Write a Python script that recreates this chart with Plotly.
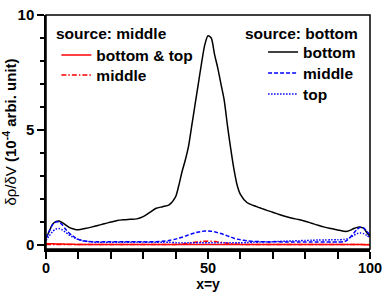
import plotly.graph_objects as go

# ---- data ----
x = [0, 1, 2, 3, 4, 5, 6, 7, 8, 9, 10,
     12, 14, 16, 18, 20, 22, 24, 26, 28, 30, 32, 34, 36, 38, 40,
     41, 42, 43, 44, 45, 46, 47, 48, 49, 50, 51, 52, 53, 54, 55, 56, 57, 58, 59, 60,
     62, 64, 66, 68, 70, 72, 74, 76, 78, 80, 82, 84, 86, 88, 90, 92,
     93, 94, 95, 96, 97, 98, 99, 100]

# source: bottom
bottom_bottom = [0.30, 0.60, 0.90, 1.02, 1.05, 0.98, 0.88, 0.78, 0.72, 0.68, 0.67,
                 0.72, 0.78, 0.85, 0.93, 1.00, 1.07, 1.10, 1.12, 1.14, 1.24, 1.42, 1.60, 1.67, 1.75, 2.10,
                 2.60, 3.20, 3.70, 4.30, 5.20, 6.10, 7.00, 7.90, 8.70, 9.10, 9.00, 8.30, 7.70, 7.00, 6.30, 5.20, 4.20, 3.30, 2.60, 2.20,
                 1.85, 1.72, 1.62, 1.52, 1.43, 1.33, 1.24, 1.17, 1.11, 1.04, 0.95, 0.86, 0.78, 0.72, 0.66, 0.60,
                 0.60, 0.65, 0.72, 0.77, 0.78, 0.74, 0.55, 0.38]

bottom_middle = [0.30, 0.60, 0.88, 1.00, 1.00, 0.88, 0.70, 0.55, 0.42, 0.32, 0.25,
                 0.18, 0.15, 0.14, 0.14, 0.14, 0.14, 0.14, 0.14, 0.14, 0.14, 0.14, 0.15, 0.17, 0.20, 0.26,
                 0.30, 0.34, 0.39, 0.44, 0.49, 0.53, 0.57, 0.59, 0.61, 0.61, 0.60, 0.58, 0.54, 0.50, 0.45, 0.40, 0.35, 0.30, 0.26, 0.23,
                 0.19, 0.16, 0.15, 0.14, 0.14, 0.14, 0.13, 0.13, 0.13, 0.13, 0.13, 0.13, 0.13, 0.13, 0.13, 0.15,
                 0.22, 0.35, 0.52, 0.68, 0.78, 0.75, 0.60, 0.45]

bottom_top = [0.20, 0.40, 0.58, 0.70, 0.72, 0.66, 0.56, 0.46, 0.37, 0.30, 0.24,
              0.17, 0.14, 0.12, 0.12, 0.12, 0.12, 0.12, 0.12, 0.12, 0.12, 0.12, 0.12, 0.12, 0.12, 0.11,
              0.10, 0.10, 0.10, 0.10, 0.10, 0.10, 0.10, 0.10, 0.10, 0.10, 0.10, 0.10, 0.10, 0.10, 0.10, 0.10, 0.10, 0.10, 0.10, 0.10,
              0.11, 0.12, 0.13, 0.14, 0.15, 0.16, 0.17, 0.18, 0.19, 0.20, 0.21, 0.22, 0.22, 0.23, 0.23, 0.25,
              0.28, 0.34, 0.42, 0.50, 0.53, 0.50, 0.42, 0.32]

# source: middle
middle_bottom_top = [0.06, 0.06, 0.06, 0.05, 0.05, 0.05, 0.04, 0.04, 0.04, 0.03, 0.03,
                     0.03, 0.03, 0.03, 0.03, 0.03, 0.03, 0.03, 0.03, 0.03, 0.03, 0.03, 0.03, 0.03, 0.03, 0.03,
                     0.03, 0.03, 0.03, 0.03, 0.03, 0.03, 0.03, 0.03, 0.03, 0.03, 0.03, 0.03, 0.03, 0.03, 0.03, 0.03, 0.03, 0.03, 0.03, 0.03,
                     0.03, 0.03, 0.03, 0.03, 0.03, 0.03, 0.03, 0.03, 0.03, 0.03, 0.03, 0.03, 0.03, 0.03, 0.03, 0.03,
                     0.03, 0.03, 0.03, 0.03, 0.03, 0.02, 0.02, 0.02]

middle_middle = [0.03, 0.03, 0.03, 0.03, 0.03, 0.03, 0.03, 0.03, 0.03, 0.03, 0.03,
                 0.03, 0.03, 0.03, 0.03, 0.03, 0.03, 0.03, 0.03, 0.03, 0.03, 0.03, 0.03, 0.03, 0.03, 0.03,
                 0.04, 0.05, 0.06, 0.08, 0.10, 0.12, 0.14, 0.16, 0.17, 0.17, 0.17, 0.16, 0.14, 0.12, 0.10, 0.08, 0.06, 0.05, 0.04, 0.03,
                 0.03, 0.03, 0.03, 0.03, 0.03, 0.03, 0.03, 0.03, 0.03, 0.03, 0.03, 0.03, 0.03, 0.03, 0.03, 0.03,
                 0.03, 0.03, 0.03, 0.03, 0.03, 0.03, 0.03, 0.03]

x_tick_vals = [0, 10, 20, 30, 40, 50, 60, 70, 80, 90, 100]
x_tick_text = ["0", "", "", "", "", "50", "", "", "", "", "100"]
y_tick_vals = [0, 5, 10]
y_tick_text = ["0", "5", "10"]
y_minor_vals = [1, 2, 3, 4, 6, 7, 8, 9]

FONT = "Liberation Sans, Arial, sans-serif"
RED = "#ff0000"
BLUE = "#0000ff"


def ln(color, dash=None):
    d = dict(color=color, width=1.5, shape="spline", smoothing=0.7)
    if dash:
        d["dash"] = dash
    return d


fig = go.Figure()
fig.add_trace(go.Scatter(x=x, y=middle_bottom_top, mode="lines", name="bottom &amp; top",
                         line=ln(RED), legend="legend", showlegend=True))
fig.add_trace(go.Scatter(x=x, y=middle_middle, mode="lines", name="middle",
                         line=ln(RED, "5px,2px,1.5px,2px"), legend="legend2", showlegend=True))
fig.add_trace(go.Scatter(x=x, y=bottom_bottom, mode="lines", name="bottom",
                         line=ln("black"), legend="legend3", showlegend=True))
fig.add_trace(go.Scatter(x=x, y=bottom_middle, mode="lines", name="middle",
                         line=ln(BLUE, "4px,2px"), legend="legend4", showlegend=True))
fig.add_trace(go.Scatter(x=x, y=bottom_top, mode="lines", name="top",
                         line=ln(BLUE, "1.5px,1.5px"), legend="legend5", showlegend=True))

legend_font = dict(family=FONT, size=15.5, color="black", weight="bold")


def leg(xp, yp):
    return dict(x=xp, y=yp, xanchor="left", yanchor="top", visible=True,
                bgcolor="rgba(0,0,0,0)", font=legend_font, borderwidth=0)


fig.update_layout(
    width=382, height=305,
    margin=dict(l=46, r=12, t=15, b=56),
    showlegend=True,
    paper_bgcolor="white", plot_bgcolor="white",
    font=dict(family=FONT, color="black"),
    legend=leg(0.032, 0.8996),
    legend2=leg(0.032, 0.8141),
    legend3=leg(0.670, 0.9124),
    legend4=leg(0.670, 0.8226),
    legend5=leg(0.670, 0.7329),
    xaxis=dict(range=[0, 100], tickmode="array", tickvals=x_tick_vals, ticktext=x_tick_text,
               ticks="outside", ticklen=7, tickwidth=1.5, tickcolor="black", automargin=False,
               ticklabeloverflow="allow", ticklabelstandoff=-3,
               showline=True, linewidth=2.5, linecolor="black", showgrid=False, zeroline=False,
               tickfont=dict(family=FONT, size=14.5, weight="bold"),
               title=dict(text="x=y", font=dict(family=FONT, size=14, weight="bold"), standoff=5)),
    yaxis=dict(range=[-0.17, 10], tickmode="array", tickvals=y_tick_vals, ticktext=y_tick_text,
               ticks="outside", ticklen=7, tickwidth=1.5, tickcolor="black", automargin=False,
               ticklabeloverflow="allow",
               minor=dict(tickmode="array", tickvals=y_minor_vals, ticks="outside", ticklen=4,
                          tickwidth=1.5, tickcolor="black", showgrid=False),
               showline=True, linewidth=1.5, linecolor="black", showgrid=False, zeroline=False,
               tickfont=dict(family=FONT, size=15, weight="bold"),
               title=dict(text="δρ/δV <b>(10<sup>-4</sup> arbi. unit)</b>",
                          font=dict(family=FONT, size=15), standoff=11)),
    shapes=[dict(type="rect", xref="paper", yref="paper", x0=0, x1=1, y0=0, y1=1,
                 line=dict(color="black", width=1.5), layer="above")],
    annotations=[
        dict(text="source: middle", xref="paper", yref="paper", x=0.024, y=0.923,
             xanchor="left", yanchor="middle", showarrow=False,
             font=dict(family=FONT, size=15.5, weight="bold", color="black")),
        dict(text="source: bottom", xref="paper", yref="paper", x=0.608, y=0.923,
             xanchor="left", yanchor="middle", showarrow=False,
             font=dict(family=FONT, size=15.5, weight="bold", color="black")),
    ],
)

fig.write_html("out.html", config={"displayModeBar": False},
               post_script="document.body.style.margin='0px';document.body.style.overflow='hidden';")
